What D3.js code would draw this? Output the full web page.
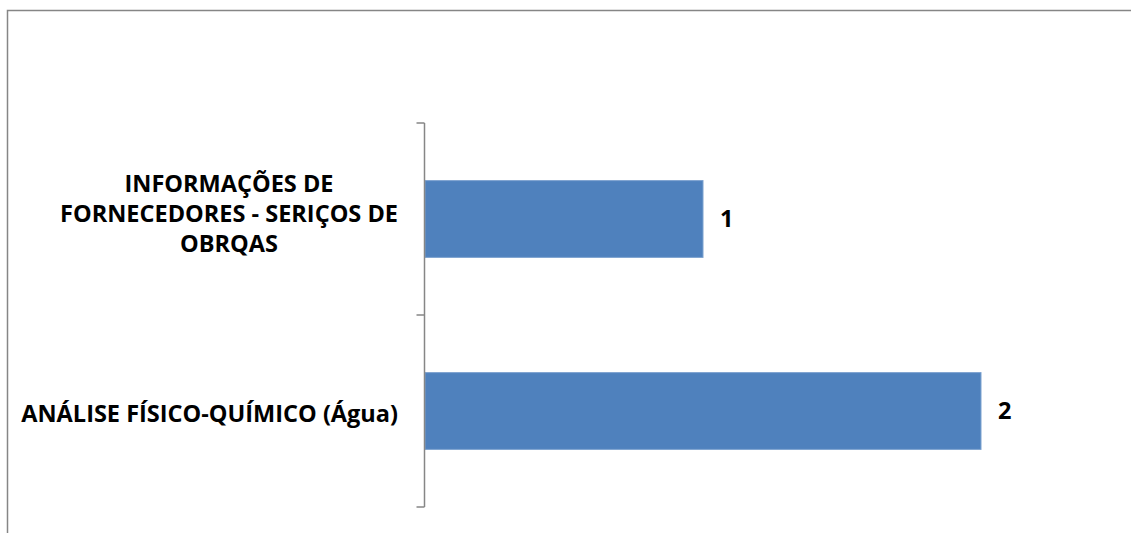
<!DOCTYPE html>
<html>
<head>
<meta charset="utf-8">
<script src="https://cdn.jsdelivr.net/npm/d3@7/dist/d3.min.js"></script>
<style>
  html, body { margin: 0; padding: 0; background: #fff; }
  svg { display: block; }
  .lbl { font-family: 'Open Sans', Lato, sans-serif; font-weight: 700; fill: #000; }
</style>
</head>
<body>
<svg id="chart" width="1131" height="533"></svg>
<script>
'use strict';

var categories = ['INFORMAÇÕES DE FORNECEDORES - SERIÇOS DE OBRQAS', 'ANÁLISE FÍSICO-QUÍMICO (Água)'];
var tickLines  = [
  ['INFORMAÇÕES DE', 'FORNECEDORES - SERIÇOS DE', 'OBRQAS'],
  ['ANÁLISE FÍSICO-QUÍMICO (Água)']
];
var values = [1, 2];

var W = 1131, H = 533;
var plot = { left: 425, right: 1120, top: 123, bottom: 507 };
var lineH = 30;
var widestLabel = 377; // px width of the longest label line in the original

var svg = d3.select('#chart');

// outer chart frame (runs off the right / bottom edge like the original)
svg.append('rect')
  .attr('x', 7.5).attr('y', 10.5)
  .attr('width', W + 20).attr('height', H + 20)
  .attr('fill', '#fff')
  .attr('stroke', '#868686')
  .attr('stroke-width', 1.5);

var x = d3.scaleLinear().domain([0, 2.5]).range([plot.left, plot.right]);
var y = d3.scaleBand().domain(categories).range([plot.top, plot.bottom])
  .paddingInner(0.6).paddingOuter(0.3);

// pick a font size so the widest label line matches the original
var probe = svg.append('text').attr('class', 'lbl').style('font-size', '20px');
var probeW = 0;
tickLines.forEach(function(lines){
  lines.forEach(function(s){
    probe.text(s);
    probeW = Math.max(probeW, probe.node().getComputedTextLength());
  });
});
probe.remove();
var fontSize = 20 * widestLabel / probeW;

// bars
svg.append('g').selectAll('rect')
  .data(values)
  .enter().append('rect')
    .attr('x', x(0))
    .attr('y', function(d, i){ return y(categories[i]) })
    .attr('width', function(d){ return x(d) - x(0) })
    .attr('height', y.bandwidth())
    .attr('fill', '#4f81bd')
    .attr('stroke', '#7da2cf')
    .attr('stroke-width', 1);

// category axis: vertical line with ticks on band boundaries
var axisG = svg.append('g').attr('transform', 'translate(' + (plot.left - 0.5) + ',0)');
var bounds = categories.map(function(c){ return y(c) - y.step() * y.paddingInner() / 2 });
bounds.push(plot.bottom);
bounds[0] = plot.top;
axisG.append('line')
  .attr('x1', 0).attr('x2', 0)
  .attr('y1', plot.top).attr('y2', plot.bottom)
  .attr('stroke', '#868686').attr('stroke-width', 1.5);
axisG.selectAll('.tick')
  .data(bounds)
  .enter().append('line')
    .attr('class', 'tick')
    .attr('x1', -8).attr('x2', 0)
    .attr('y1', function(d){ return d }).attr('y2', function(d){ return d })
    .attr('stroke', '#868686').attr('stroke-width', 1.5);

// category labels, each block centred, right edge 27px left of the axis
var labelRight = plot.left - 27;
tickLines.forEach(function(lines, i){
  var c = y(categories[i]) + y.bandwidth() / 2;
  var t = svg.append('g').selectAll('text').data(lines).enter().append('text')
    .attr('class', 'lbl')
    .style('font-size', fontSize + 'px')
    .attr('text-anchor', 'middle')
    .text(function(d){ return d });
  var w = 0;
  t.each(function(){ w = Math.max(w, this.getComputedTextLength()) });
  var off = lines.length === 1 ? 11 : 2.5;
  t.attr('x', labelRight - w / 2)
   .attr('y', function(d, j){ return c + (j - (lines.length - 1) / 2) * lineH + off });
});

// value labels
svg.append('g').selectAll('text')
  .data(values)
  .enter().append('text')
    .attr('class', 'lbl')
    .style('font-size', fontSize + 'px')
    .attr('x', function(d){ return x(d) + 17 })
    .attr('y', function(d, i){ return y(categories[i]) + y.bandwidth() / 2 + 8 })
    .text(function(d){ return d });
</script>
</body>
</html>
